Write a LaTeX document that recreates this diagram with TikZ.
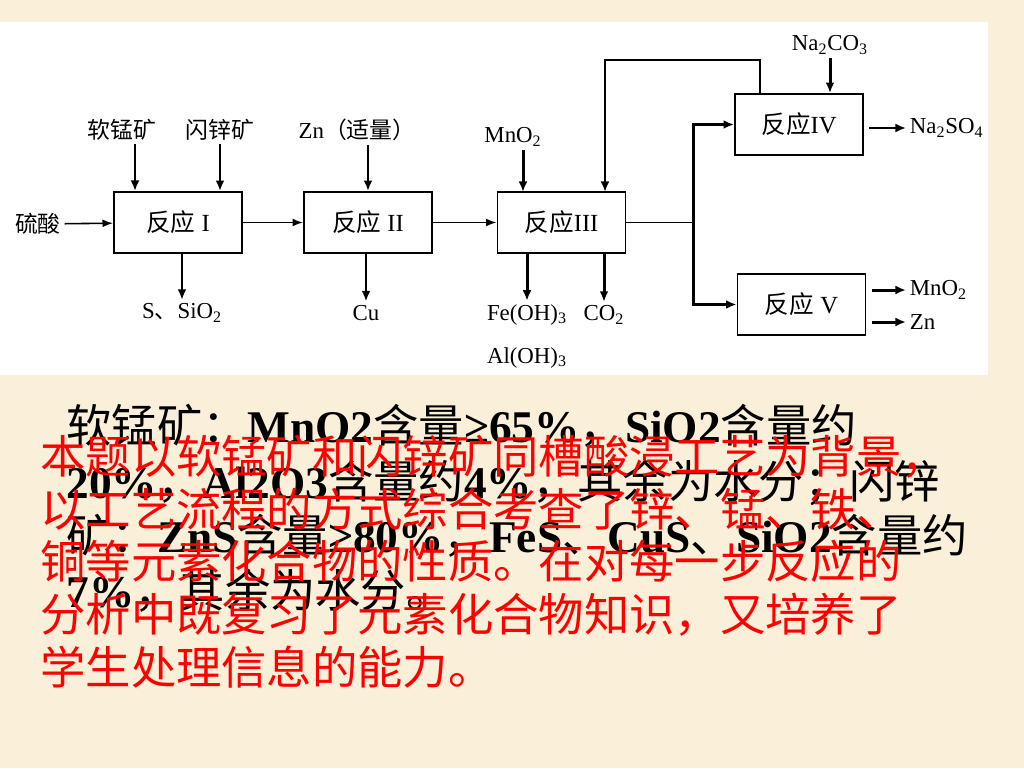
\documentclass[tikz,border=0pt]{standalone}
\usepackage{fontspec}
\setmainfont{Liberation Serif}
\newfontfamily\cjk{Noto Sans CJK SC}
\newcommand{\zh}[1]{{\cjk\mdseries #1}}
\usetikzlibrary{arrows.meta,positioning}
\definecolor{parchment}{RGB}{250,239,216}

\begin{document}
\begin{tikzpicture}[x=0.02cm, y=-0.02cm,
    box/.style={draw, line width=1.1pt, minimum width=2.56cm, minimum height=1.22cm, inner sep=0pt, font=\fontsize{14}{14}\selectfont},
    lbl/.style={inner sep=2pt, font=\fontsize{13}{13}\selectfont},
    thinarrow/.style={line width=0.9pt, -{Latex[length=6pt,width=4.5pt]}},
    thickarrow/.style={line width=1.7pt, -{Latex[length=6pt,width=5pt]}},
    note/.style={anchor=base west, inner sep=0pt, font=\fontsize{25.8}{25.8}\selectfont}]
    \useasboundingbox (0,0) rectangle (1024,768);
    \fill[parchment] (0,0) rectangle (1024,768);
    \fill[white] (0,22) rectangle (988,375);

    % reactors
    \node[box] (r1) at (178,222.5) {{\cjk 反应} I};
    \node[box] (r2) at (368,222.5) {{\cjk 反应} II};
    \node[box] (r3) at (561.5,222.5) {{\cjk 反应}III};
    \node[box] (r4) at (799,124.5) {{\cjk 反应}IV};
    \node[box] (r5) at (801.5,304.5) {{\cjk 反应} V};

    % inputs and outputs
    \node[lbl] (acid) at (38,224) {\cjk 硫酸};
    \node[lbl] (ruan) at (122,130) {\cjk 软锰矿};
    \node[lbl] (shan) at (220,130) {\cjk 闪锌矿};
    \node[lbl] (zn) at (357,130) {Zn{\cjk （适量）}};
    \node[lbl] (mno) at (513,137) {MnO\textsubscript{2}};
    \node[lbl] (naco) at (830,45) {Na\textsubscript{2}CO\textsubscript{3}};
    \node[lbl] (ssio) at (182,313) {S{\cjk 、}SiO\textsubscript{2}};
    \node[lbl] (cu) at (366,313) {Cu};
    \node[lbl] (feoh) at (527,315) {Fe(OH)\textsubscript{3}};
    \node[lbl] (aloh) at (527,358) {Al(OH)\textsubscript{3}};
    \node[lbl] (co2) at (604,315) {CO\textsubscript{2}};
    \node[lbl, anchor=west] (naso) at (906,128) {Na\textsubscript{2}SO\textsubscript{4}};
    \node[lbl, anchor=west] (mnob) at (906,290) {MnO\textsubscript{2}};
    \node[lbl, anchor=west] (znb) at (906,322) {Zn};

    \coordinate (ruanin) at (135,191);
    \coordinate (mnoin) at (523,192);
    \coordinate (fbin) at (605,192);
    \coordinate (fbout) at (760,93);
    \coordinate (split) at (693,222.5);

    % main line
    \draw[thinarrow] (acid) -- (r1);
    \draw[thinarrow] (r1) -- (r2);
    \draw[thinarrow] (r2) -- (r3);
    \draw[line width=0.9pt] (r3.east) -- (split);
    \draw[thickarrow] (split) |- (r4.west);
    \draw[thickarrow] (split) |- (r5.west);
    \draw[line width=1.4pt, -{Latex[length=6pt,width=5pt]}] (fbout) -- ++(0,-33) -| (fbin);

    % feeds
    \draw[thickarrow] (ruan.south -| ruanin) -- (ruanin);
    \draw[thickarrow] (shan.south) -- (shan.south |- r1.north);
    \draw[thickarrow] (zn.south -| r2.north) -- (r2.north);
    \draw[thickarrow] (mno.south -| mnoin) -- (mnoin);
    \draw[thickarrow] (naco.south) -- (naco.south |- r4.north);

    % products
    \draw[thickarrow] (r1.south -| ssio) -- (ssio.north);
    \draw[thickarrow] (r2.south -| cu) -- (cu.north);
    \draw[thickarrow] (r3.south -| feoh) -- (feoh.north);
    \draw[thickarrow] (r3.south -| co2) -- (co2.north);
    \draw[thickarrow] ([xshift=3pt]r4.east |- naso) -- (naso.west);
    \draw[thickarrow] ([xshift=3pt]r5.east |- mnob) -- (mnob.west);
    \draw[thickarrow] ([xshift=3pt]r5.east |- znb) -- (znb.west);

    % notes
    \begin{scope}[font=\bfseries]
     \node[note] (b1) at (66,442) {\bfseries\zh{软锰矿：}MnO2\zh{含量}≥65\%\zh{，}SiO2\zh{含量约}};
     \node[note] (b2) at (66,498) {\bfseries 20\%\zh{，}Al2O3\zh{含量约}4\%\zh{，其余为水分；闪锌}};
     \node[note] (b3) at (66,552) {\bfseries\zh{矿：}ZnS\zh{含量}≥80\%\zh{，}FeS\zh{、}CuS\zh{、}SiO2\zh{含量约}};
     \node[note] (b4) at (66,607) {\bfseries 7\%\zh{，其余为水分。}};
    \end{scope}
    \begin{scope}[red]
     \node[note, red] (t1) at (40,473) {\cjk 本题以软锰矿和闪锌矿同槽酸浸工艺为背景，};
     \node[note, red] (t2) at (40,526) {\cjk 以工艺流程的方式综合考查了锌、锰、铁、};
     \node[note, red] (t3) at (40,578) {\cjk 铜等元素化合物的性质。在对每一步反应的};
     \node[note, red] (t4) at (40,631) {\cjk 分析中既复习了元素化合物知识，又培养了};
     \node[note, red] (t5) at (40,684) {\cjk 学生处理信息的能力。};
    \end{scope}
\end{tikzpicture}
\end{document}
